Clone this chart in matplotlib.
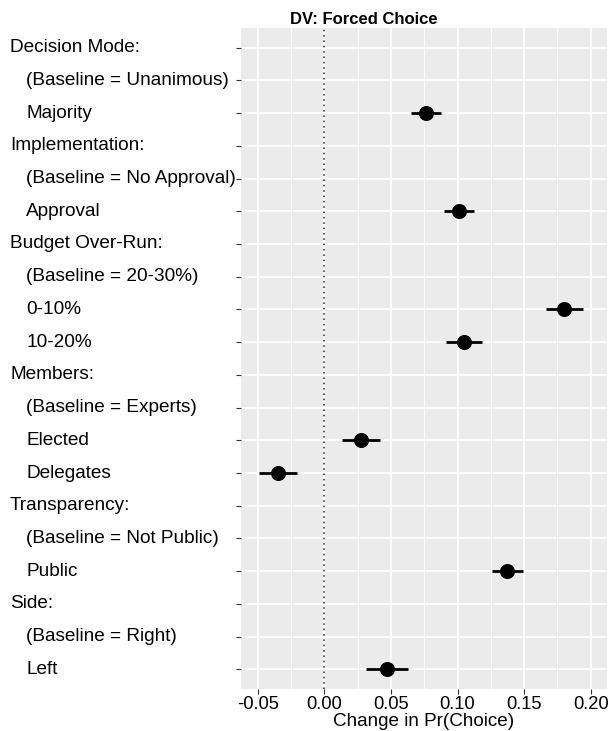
import matplotlib
matplotlib.use("Agg")
import matplotlib.pyplot as plt
from matplotlib.transforms import blended_transform_factory

plt.rcParams['font.family'] = ['Liberation Sans', 'DejaVu Sans']

# Row labels (top to bottom) and whether each is an indented level
row_labels = [
    "Decision Mode:", "(Baseline = Unanimous)", "Majority",
    "Implementation:", "(Baseline = No Approval)", "Approval",
    "Budget Over-Run:", "(Baseline = 20-30%)", "0-10%", "10-20%",
    "Members:", "(Baseline = Experts)", "Elected", "Delegates",
    "Transparency:", "(Baseline = Not Public)", "Public",
    "Side:", "(Baseline = Right)", "Left",
]
row_indent = [
    False, True, True,
    False, True, True,
    False, True, True, True,
    False, True, True, True,
    False, True, True,
    False, True, True,
]

# Estimated effects with confidence bounds
effect_labels = ["Majority", "Approval", "0-10%", "10-20%",
                 "Elected", "Delegates", "Public", "Left"]
effect_est = [0.0763, 0.1010, 0.1800, 0.1047, 0.0276, -0.0348, 0.1373, 0.0472]
effect_lo = [0.0650, 0.0898, 0.1666, 0.0910, 0.0131, -0.0490, 0.1258, 0.0313]
effect_hi = [0.0878, 0.1124, 0.1940, 0.1184, 0.0420, -0.0204, 0.1490, 0.0630]

x_ticks = [-0.05, 0.00, 0.05, 0.10, 0.15, 0.20]
x_tick_labels = ["-0.05", "0.00", "0.05", "0.10", "0.15", "0.20"]

W, H = 609, 731
fig = plt.figure(figsize=(W / 100, H / 100), dpi=100)
fig.patch.set_facecolor("white")

left, right, top, bottom = 241, 607, 28, 689
ax = fig.add_axes([left / W, 1 - bottom / H, (right - left) / W, (bottom - top) / H])
ax.set_facecolor("#EBEBEB")
for s in ax.spines.values():
    s.set_visible(False)

n = len(row_labels)
ypos = {lab: n - 1 - i for i, lab in enumerate(row_labels)}
ax.set_ylim(-0.6, n - 1 + 0.6)

# Grid
ax.set_xticks(x_ticks)
ax.set_xticks([t + 0.025 for t in [-0.075] + x_ticks], minor=True)
ax.set_yticks(range(n))
ax.grid(which="major", color="white", linewidth=1.3)
ax.grid(which="minor", axis="x", color="white", linewidth=0.6)
ax.set_axisbelow(True)
ax.set_xlim(-0.0625, 0.2122)

ax.set_yticklabels([""] * n)
ax.set_xticklabels(x_tick_labels, fontsize=13.2, color="black")
ax.tick_params(axis="both", which="major", length=3.5, width=0.8, color="#333333", pad=1.5)
ax.tick_params(axis="x", which="minor", length=0)

# Zero reference
ax.axvline(0, color="#222222", linestyle=(0, (1, 2.5)), linewidth=1.1, zorder=2)

# Estimates and intervals
ys = [ypos[l] for l in effect_labels]
ax.hlines(ys, effect_lo, effect_hi, color="black", linewidth=2.0, zorder=3)
ax.plot(effect_est, ys, "o", color="black", markersize=9.8, zorder=4)

# Left-aligned row labels
trans = blended_transform_factory(fig.transFigure, ax.transData)
for lab, ind in zip(row_labels, row_indent):
    xpix = 26 if ind else 10
    ax.text(xpix / W, ypos[lab], lab, transform=trans, ha="left", va="center",
            fontsize=13.7, color="black", clip_on=False)

ax.set_xlabel("Change in Pr(Choice)", fontsize=13.6, color="black", labelpad=0)
fig.text(364 / W, 1 - 19 / H, "DV: Forced Choice", ha="center", va="center",
         fontsize=12, fontweight="bold", color="black")

fig.savefig("out.png", dpi=100)
